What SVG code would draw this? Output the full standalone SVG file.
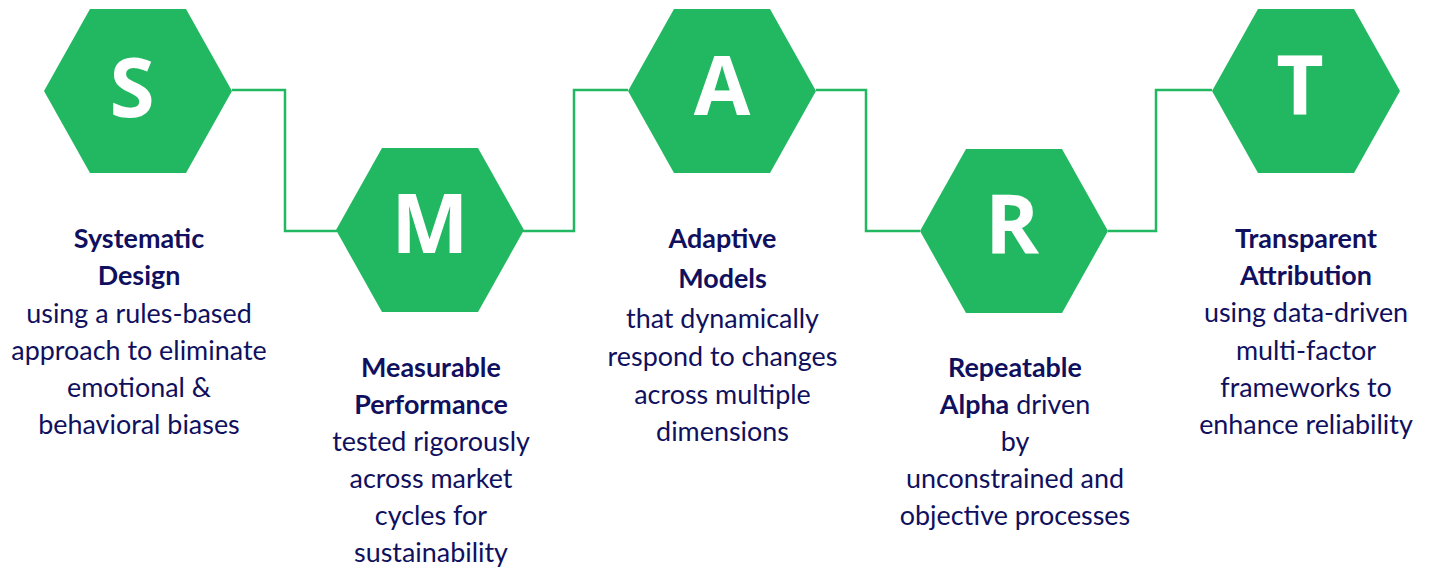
<svg xmlns="http://www.w3.org/2000/svg" width="1432" height="571" viewBox="0 0 1432 571">
<defs>
<style>
.hex{fill:#22B862;}
.conn{fill:none;stroke:#22B862;stroke-width:2.5;}
.letter{font-family:"Open Sans","Noto Sans",sans-serif;font-weight:700;font-size:82px;fill:#FFFFFF;text-anchor:middle;}
.lbl{font-family:Lato,"Open Sans",sans-serif;font-size:26.9px;fill:#10105E;text-anchor:middle;}
.b{font-weight:700;}
</style>
<polygon id="hexShape" points="-94,0 -48,-82 48,-82 94,0 48,82 -48,82"/>
</defs>
<rect width="1432" height="571" fill="#FFFFFF"/>
<g id="connectors">
<polyline class="conn" points="232,90 285,90 285,231 337,231"/>
<polyline class="conn" points="523,231 574,231 574,90 628,90"/>
<polyline class="conn" points="816,90 866,90 866,231 920,231"/>
<polyline class="conn" points="1108,231 1156,231 1156,90 1212,90"/>
</g>
<g id="node-S">
<use href="#hexShape" class="hex" transform="translate(138,91)"/>
<text class="letter" x="132" y="117">S</text>
<text class="lbl"><tspan class="b" x="139" y="248">Systematic</tspan><tspan class="b" x="139" y="285">Design</tspan><tspan x="139" y="322.5">using a rules-based</tspan><tspan x="139" y="359.5">approach to eliminate</tspan><tspan x="139" y="397">emotional &amp;</tspan><tspan x="139" y="434">behavioral biases</tspan></text>
</g>
<g id="node-M">
<use href="#hexShape" class="hex" transform="translate(430,230)"/>
<text class="letter" x="430" y="253">M</text>
<text class="lbl"><tspan class="b" x="431" y="376.5">Measurable</tspan><tspan class="b" x="431" y="414">Performance</tspan><tspan x="431" y="450.5">tested rigorously</tspan><tspan x="431" y="488">across market</tspan><tspan x="431" y="525">cycles for</tspan><tspan x="431" y="562">sustainability</tspan></text>
</g>
<g id="node-A">
<use href="#hexShape" class="hex" transform="translate(722,91)"/>
<text class="letter" x="722" y="115">A</text>
<text class="lbl"><tspan class="b" x="722.5" y="248">Adaptive</tspan><tspan class="b" x="722.5" y="288">Models</tspan><tspan x="722.5" y="328">that dynamically</tspan><tspan x="722.5" y="366">respond to changes</tspan><tspan x="722.5" y="403.5">across multiple</tspan><tspan x="722.5" y="441">dimensions</tspan></text>
</g>
<g id="node-R">
<use href="#hexShape" class="hex" transform="translate(1014,231)"/>
<text class="letter" x="1012" y="254">R</text>
<text class="lbl"><tspan class="b" x="1015" y="376.5">Repeatable</tspan><tspan x="1015" y="414"><tspan class="b">Alpha</tspan> driven</tspan><tspan x="1015" y="450.5">by</tspan><tspan x="1015" y="487.5">unconstrained and</tspan><tspan x="1015" y="525">objective processes</tspan></text>
</g>
<g id="node-T">
<use href="#hexShape" class="hex" transform="translate(1306,91)"/>
<text class="letter" x="1300" y="115">T</text>
<text class="lbl"><tspan class="b" x="1306" y="248">Transparent</tspan><tspan class="b" x="1306" y="285">Attribution</tspan><tspan x="1306" y="322">using data-driven</tspan><tspan x="1306" y="359.5">multi-factor</tspan><tspan x="1306" y="397">frameworks to</tspan><tspan x="1306" y="434">enhance reliability</tspan></text>
</g>
</svg>
